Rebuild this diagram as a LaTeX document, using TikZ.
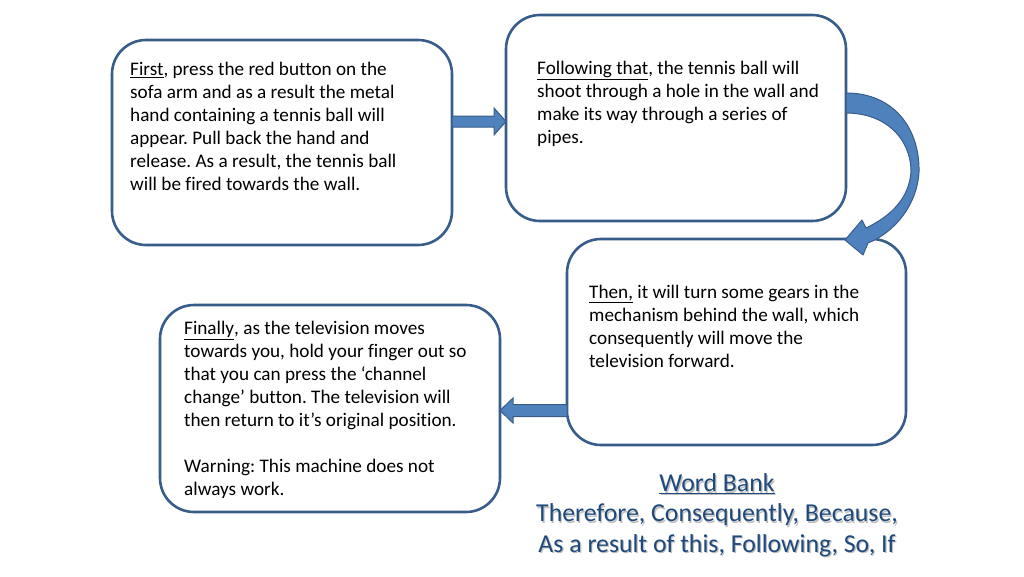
\documentclass[tikz,border=0pt]{standalone}
\usepackage{fontspec}
\setmainfont{Carlito}[Ligatures=NoCommon]
\begin{document}
\frenchspacing
\begin{tikzpicture}[x=1pt,y=-1pt]
\definecolor{bord}{RGB}{56,93,138}
\definecolor{afill}{RGB}{79,129,189}
\definecolor{wb}{RGB}{31,73,125}
\tikzset{
  stepbox/.style={draw=bord, line width=2.6pt, rounded corners=34pt, fill=white},
  bodytext/.style={anchor=north west, inner sep=0pt, align=left, font=\fontsize{19.2}{23}\selectfont, text=black},
  blockarrow/.style={fill=afill, draw=bord, line width=1pt, line join=miter},
  wbtext/.style={inner sep=0pt, text=wb, font=\fontsize{25.8}{31}\selectfont}
}
\useasboundingbox (0,0) rectangle (1024,576);
% boxes
\draw[stepbox] (112,40) rectangle (452,245);
\draw[stepbox] (506,15) rectangle (846,221);
\draw[stepbox] (567,239) rectangle (906,445);
\draw[stepbox] (160,305) rectangle (500,512);
% texts
\node[bodytext] (t1) at (130,62) {\underline{First}, press the red button on the\\sofa arm and as a result the metal\\hand containing a tennis ball will\\appear. Pull back the hand and\\release. As a result, the tennis ball\\will be fired towards the wall.};
\node[bodytext] (t2) at (537,61) {\underline{Following that}, the tennis ball will\\shoot through a hole in the wall and\\make its way through a series of\\pipes.};
\node[bodytext] (t3) at (589,285) {\underline{Then,} it will turn some gears in the\\mechanism behind the wall, which\\consequently will move the\\television forward.};
\node[bodytext] (t4) at (184,321) {\underline{Finally}, as the television moves\\towards you, hold your finger out so\\that you can press the `channel\\change' button. The television will\\then return to it's original position.\\[23pt]Warning: This machine does not\\always work.};
% arrow 1 (right)
\draw[blockarrow] (452,116) -- (494,116) -- (494,108) -- (506,121.5) -- (494,135) -- (494,127) -- (452,127) -- cycle;
% arrow 3 (left)
\draw[blockarrow] (567,404.5) -- (513,404.5) -- (513,398) -- (500,410.5) -- (513,423) -- (513,416.5) -- (567,416.5) -- cycle;
% curved arrow
\draw[blockarrow, line join=round] (846,93) .. controls (895,93) and (920,130) .. (919,172)
  .. controls (917,205) and (895,232) .. (868,243)
  -- (863,255) -- (845,240) -- (862,220) -- (866,228)
  .. controls (893,215) and (909,197) .. (911,172)
  .. controls (911,138) and (885,113) .. (846,113) -- cycle;
% word bank
\foreach \n/\y/\t in {wb1/484/{\underline{Word Bank}}, wb2/515/{Therefore, Consequently, Because,}, wb3/546/{As a result of this, Following, So, If}}{
  \node[wbtext, text=black!25] at (718.2,\y+1.2) {\t};
  \node[wbtext] (\n) at (717,\y) {\t};
}
\end{tikzpicture}
\end{document}
